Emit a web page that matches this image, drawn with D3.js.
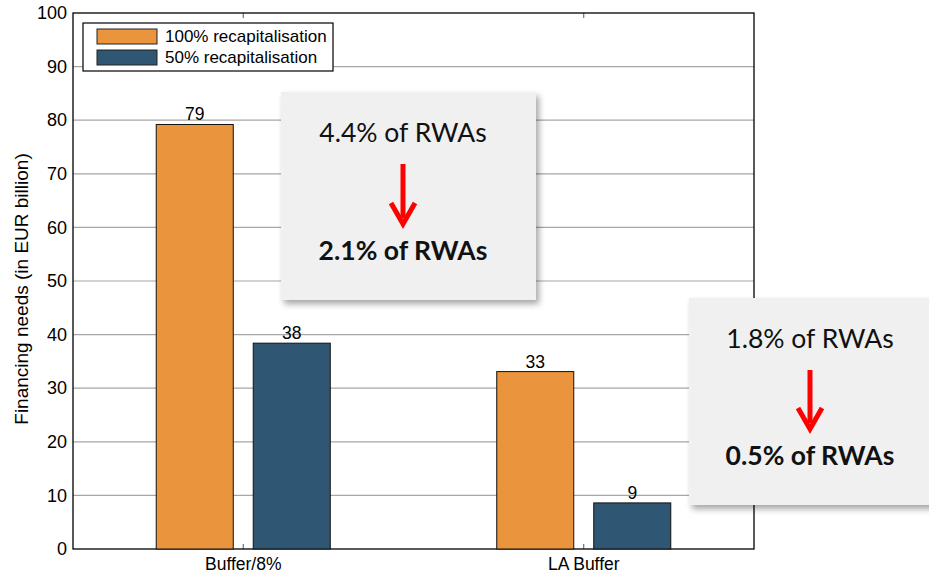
<!DOCTYPE html>
<html><head><meta charset="utf-8">
<script src="https://cdn.jsdelivr.net/npm/d3@7/dist/d3.min.js"></script>
<style>body{margin:0;background:#fff}svg{display:block}</style>
</head><body>
<svg id="c" width="929" height="576"></svg>
<script>
const categories = ["Buffer/8%", "LA Buffer"];
const seriesNames = ["100% recapitalisation", "50% recapitalisation"];
const full = [79.2, 33.1];
const half = [38.4, 8.6];
const yTicks = [0,10,20,30,40,50,60,70,80,90,100];
const notesBefore = ["4.4% of RWAs", "1.8% of RWAs"];
const notesAfter = ["2.1% of RWAs", "0.5% of RWAs"];
const colors = ["#EA943D", "#2F5673"];

const FONT = "Liberation Sans, Arial, sans-serif";
const svg = d3.select("#c");
const m = {l:73, t:13, r:754, b:549};
const x = d3.scaleBand().domain(categories).range([m.l, m.r]).padding(0);
const xs = d3.scaleBand().domain([0,1]).range([0, x.bandwidth()]).paddingInner(0.206).paddingOuter(0.858);
const y = d3.scaleLinear().domain([0,100]).range([m.b, m.t]);

const defs = svg.append("defs");
const f = defs.append("filter").attr("id","sh").attr("x","-10%").attr("y","-10%").attr("width","130%").attr("height","130%");
f.append("feDropShadow").attr("dx",3).attr("dy",4).attr("stdDeviation",3).attr("flood-color","#000").attr("flood-opacity",0.35);

// gridlines
svg.append("g").selectAll("line").data(yTicks.filter(v=>v>0&&v<100)).join("line")
  .attr("x1",m.l).attr("x2",m.r).attr("y1",d=>y(d)).attr("y2",d=>y(d))
  .attr("stroke","#a6a6a6").attr("stroke-width",1.2);

// axes
const yAxis = svg.append("g").attr("transform",`translate(${m.l},0)`)
  .call(d3.axisLeft(y).tickValues(yTicks).tickSize(0).tickPadding(6));
yAxis.select(".domain").remove();
yAxis.selectAll("text").attr("font-family",FONT).attr("font-size",18).attr("fill","#000");

const xAxis = svg.append("g").attr("transform",`translate(0,${m.b})`)
  .call(d3.axisBottom(x).tickSize(0).tickPadding(8.6));
xAxis.select(".domain").remove();
xAxis.selectAll("text").attr("font-family",FONT).attr("font-size",17.5).attr("fill","#000");

// small ticks at category centers
categories.forEach(c=>{
  const cx = x(c)+x.bandwidth()/2;
  svg.append("line").attr("x1",cx).attr("x2",cx).attr("y1",m.b).attr("y2",m.b-5).attr("stroke","#555");
  svg.append("line").attr("x1",cx).attr("x2",cx).attr("y1",m.t).attr("y2",m.t+5).attr("stroke","#555");
});

// frame
svg.append("rect").attr("x",m.l).attr("y",m.t).attr("width",m.r-m.l).attr("height",m.b-m.t)
  .attr("fill","none").attr("stroke","#000").attr("stroke-width",1.3);

// bars
const series = [full, half];
series.forEach((vals, si)=>{
  const g = svg.append("g");
  g.selectAll("rect").data(vals).join("rect")
    .attr("x",(d,i)=>x(categories[i])+xs(si))
    .attr("width",xs.bandwidth())
    .attr("y",d=>y(d)).attr("height",d=>y(0)-y(d))
    .attr("fill",colors[si]).attr("stroke","#111").attr("stroke-width",1);
  g.selectAll("text").data(vals).join("text")
    .attr("x",(d,i)=>x(categories[i])+xs(si)+xs.bandwidth()/2)
    .attr("y",d=>y(d)-4)
    .attr("text-anchor","middle").attr("font-family",FONT)
    .attr("font-size",17.5).attr("fill","#000").text(d=>d3.format(".0f")(d));
});

// y label
svg.append("text").attr("transform",`translate(28,${(m.t+m.b)/2+8}) rotate(-90)`)
  .attr("text-anchor","middle").attr("font-family",FONT)
  .attr("font-size",19).attr("fill","#000").text("Financing needs  (in EUR billion)");

// legend
const lg = svg.append("g");
lg.append("rect").attr("x",83).attr("y",23).attr("width",250).attr("height",48)
  .attr("fill","#fff").attr("stroke","#000").attr("stroke-width",1.2);
seriesNames.forEach((n,i)=>{
  lg.append("rect").attr("x",97).attr("y",29+i*21).attr("width",60).attr("height",15)
    .attr("fill",colors[i]).attr("stroke","#222").attr("stroke-width",1);
  lg.append("text").attr("x",165).attr("y",42+i*21).attr("font-family",FONT)
    .attr("font-size",17).attr("fill","#000").text(n);
});

// annotation boxes
const boxes = [
  {x:281, y:92, w:255, h:208, cx:403, b1:142, a1:164, a2:224, b2:260},
  {x:689, y:298, w:250, h:207, cx:810, b1:348, a1:370, a2:429, b2:465}
];
boxes.forEach((b,i)=>{
  const g = svg.append("g");
  g.append("rect").attr("x",b.x).attr("y",b.y).attr("width",b.w).attr("height",b.h)
    .attr("fill","#f0f0f0").attr("filter","url(#sh)");
  g.append("text").attr("x",b.cx).attr("y",b.b1).attr("text-anchor","middle")
    .attr("font-family","Lato, 'Open Sans', sans-serif").attr("font-size",26.5).attr("fill","#111").text(notesBefore[i]);
  g.append("line").attr("x1",b.cx).attr("x2",b.cx).attr("y1",b.a1).attr("y2",b.a2-6)
    .attr("stroke","#ff0000").attr("stroke-width",5);
  g.append("path").attr("d",`M${b.cx-12},${b.a2-21} L${b.cx},${b.a2} L${b.cx+12},${b.a2-21}`)
    .attr("fill","none").attr("stroke","#ff0000").attr("stroke-width",5).attr("stroke-linejoin","miter");
  g.append("text").attr("x",b.cx).attr("y",b.b2).attr("text-anchor","middle")
    .attr("font-family","Lato, 'Open Sans', sans-serif").attr("font-weight","bold").attr("font-size",26.5).attr("fill","#111").text(notesAfter[i]);
});
</script>
</body></html>
